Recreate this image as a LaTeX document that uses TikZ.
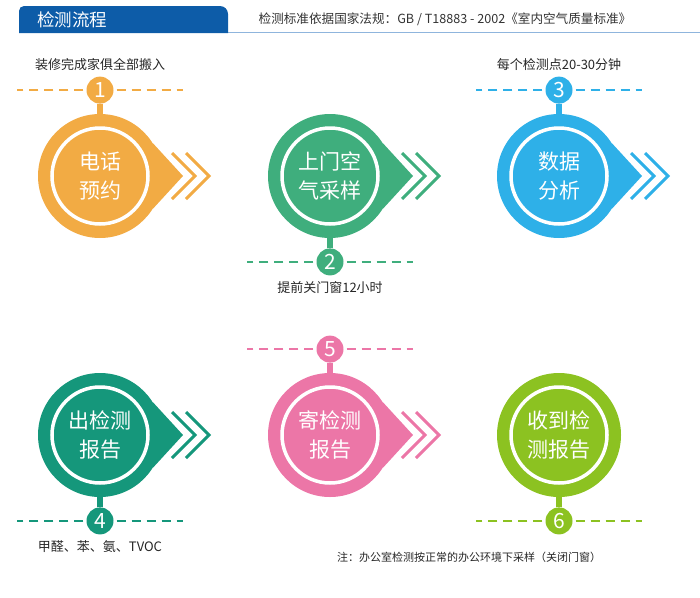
\documentclass[tikz,border=0pt]{standalone}
\usepackage{fontspec}
\setmainfont{Noto Sans CJK SC}
\usepackage{xcolor}
\usetikzlibrary{positioning}

\definecolor{hdrblue}{HTML}{0D5CA8}
\definecolor{hdrline}{HTML}{8FB5DD}
\definecolor{orng}{HTML}{F2AB44}
\definecolor{leaf}{HTML}{3FAE7D}
\definecolor{sky}{HTML}{2EB0E8}
\definecolor{teal}{HTML}{15977B}
\definecolor{pink}{HTML}{EC76A7}
\definecolor{lime}{HTML}{8CC221}

\begin{document}
\begin{tikzpicture}[
    x=1pt, y=1pt,
    stepcirc/.style={circle, minimum size=124pt, inner sep=0pt},
    ring/.style={circle, draw=white, line width=3.5pt, minimum size=96pt, inner sep=0pt, align=center, text=white, font=\fontsize{21}{29}\selectfont},
    badge/.style={circle, minimum size=27pt, inner sep=0pt, text=white, font=\fontsize{21}{21}\selectfont},
    guide/.style={line width=2.5pt, dash pattern=on 9pt off 6pt},
    chev/.style={line width=3pt},
    stem/.style={line width=6pt},
    note/.style={inner sep=0pt, text=black!85, font=\fontsize{13}{13}\selectfont}
]
    \useasboundingbox (0,0) rectangle (700,-597);

    % header
    \draw[hdrline, line width=1.4pt] (20,-32.5) -- (700,-32.5);
    \fill[hdrblue] (19,-33) -- (19,-11) arc[start angle=180, end angle=90, radius=5] -- (220,-6) arc[start angle=90, end angle=0, radius=8] -- (228,-33) -- cycle;
    \node[text=white, font=\fontsize{17.5}{17.5}\selectfont] (title) at (72,-19.5) {检测流程};
    \node[text=black!80, font=\fontsize{12.6}{12.6}\selectfont] (sub) at (445,-19.5) {检测标准依据国家法规：GB / T18883 - 2002《室内空气质量标准》};

    % step 1
    \node[stepcirc, fill=orng] (s1) at (100,-176) {};
    \fill[orng] (s1.32) -- ([xshift=83pt]s1.center) -- (s1.-32) -- cycle;
    \foreach \d in {72,86}
        \draw[chev, orng] ([shift={(\d,23)}]s1.center) -- ([shift={({\d+23},0)}]s1.center) -- ([shift={(\d,-23)}]s1.center);
    \node[ring] (r1) at (s1) {电话\\预约};
    \node[badge, fill=orng, above=10pt of s1] (b1) {1};
    \draw[stem, orng] (s1.north) -- (b1.south);
    \draw[guide, orng] ([xshift=-3pt]b1.west) -- ++(-66,0);
    \draw[guide, orng] ([xshift=3pt]b1.east) -- ++(66,0);
    \node[note, above=6pt of b1] (n1) {装修完成家俱全部搬入};

    % step 2
    \node[stepcirc, fill=leaf] (s2) at (330,-176) {};
    \fill[leaf] (s2.32) -- ([xshift=83pt]s2.center) -- (s2.-32) -- cycle;
    \foreach \d in {72,86}
        \draw[chev, leaf] ([shift={(\d,23)}]s2.center) -- ([shift={({\d+23},0)}]s2.center) -- ([shift={(\d,-23)}]s2.center);
    \node[ring] (r2) at (s2) {上门空\\气采样};
    \node[badge, fill=leaf, below=10pt of s2] (b2) {2};
    \draw[stem, leaf] (s2.south) -- (b2.north);
    \draw[guide, leaf] ([xshift=-3pt]b2.west) -- ++(-66,0);
    \draw[guide, leaf] ([xshift=3pt]b2.east) -- ++(66,0);
    \node[note, below=6pt of b2] (n2) {提前关门窗12小时};

    % step 3
    \node[stepcirc, fill=sky] (s3) at (559,-176) {};
    \fill[sky] (s3.32) -- ([xshift=83pt]s3.center) -- (s3.-32) -- cycle;
    \foreach \d in {72,86}
        \draw[chev, sky] ([shift={(\d,23)}]s3.center) -- ([shift={({\d+23},0)}]s3.center) -- ([shift={(\d,-23)}]s3.center);
    \node[ring] (r3) at (s3) {数据\\分析};
    \node[badge, fill=sky, above=10pt of s3] (b3) {3};
    \draw[stem, sky] (s3.north) -- (b3.south);
    \draw[guide, sky] ([xshift=-3pt]b3.west) -- ++(-66,0);
    \draw[guide, sky] ([xshift=3pt]b3.east) -- ++(66,0);
    \node[note, above=6pt of b3] (n3) {每个检测点20-30分钟};

    % step 4
    \node[stepcirc, fill=teal] (s4) at (100,-435) {};
    \fill[teal] (s4.32) -- ([xshift=83pt]s4.center) -- (s4.-32) -- cycle;
    \foreach \d in {72,86}
        \draw[chev, teal] ([shift={(\d,23)}]s4.center) -- ([shift={({\d+23},0)}]s4.center) -- ([shift={(\d,-23)}]s4.center);
    \node[ring] (r4) at (s4) {出检测\\报告};
    \node[badge, fill=teal, below=10pt of s4] (b4) {4};
    \draw[stem, teal] (s4.south) -- (b4.north);
    \draw[guide, teal] ([xshift=-3pt]b4.west) -- ++(-66,0);
    \draw[guide, teal] ([xshift=3pt]b4.east) -- ++(66,0);
    \node[note, below=6pt of b4] (n4) {甲醛、苯、氨、TVOC};

    % step 5
    \node[stepcirc, fill=pink] (s5) at (330,-435) {};
    \fill[pink] (s5.32) -- ([xshift=83pt]s5.center) -- (s5.-32) -- cycle;
    \foreach \d in {72,86}
        \draw[chev, pink] ([shift={(\d,23)}]s5.center) -- ([shift={({\d+23},0)}]s5.center) -- ([shift={(\d,-23)}]s5.center);
    \node[ring] (r5) at (s5) {寄检测\\报告};
    \node[badge, fill=pink, above=10pt of s5] (b5) {5};
    \draw[stem, pink] (s5.north) -- (b5.south);
    \draw[guide, pink] ([xshift=-3pt]b5.west) -- ++(-66,0);
    \draw[guide, pink] ([xshift=3pt]b5.east) -- ++(66,0);

    % step 6
    \node[stepcirc, fill=lime] (s6) at (559,-435) {};
    \node[ring] (r6) at (s6) {收到检\\测报告};
    \node[badge, fill=lime, below=10pt of s6] (b6) {6};
    \draw[stem, lime] (s6.south) -- (b6.north);
    \draw[guide, lime] ([xshift=-3pt]b6.west) -- ++(-66,0);
    \draw[guide, lime] ([xshift=3pt]b6.east) -- ++(66,0);

    \node[text=black!85, font=\fontsize{11}{11}\selectfont] (memo) at (469,-557) {注：办公室检测按正常的办公环境下采样（关闭门窗）};
\end{tikzpicture}
\end{document}
